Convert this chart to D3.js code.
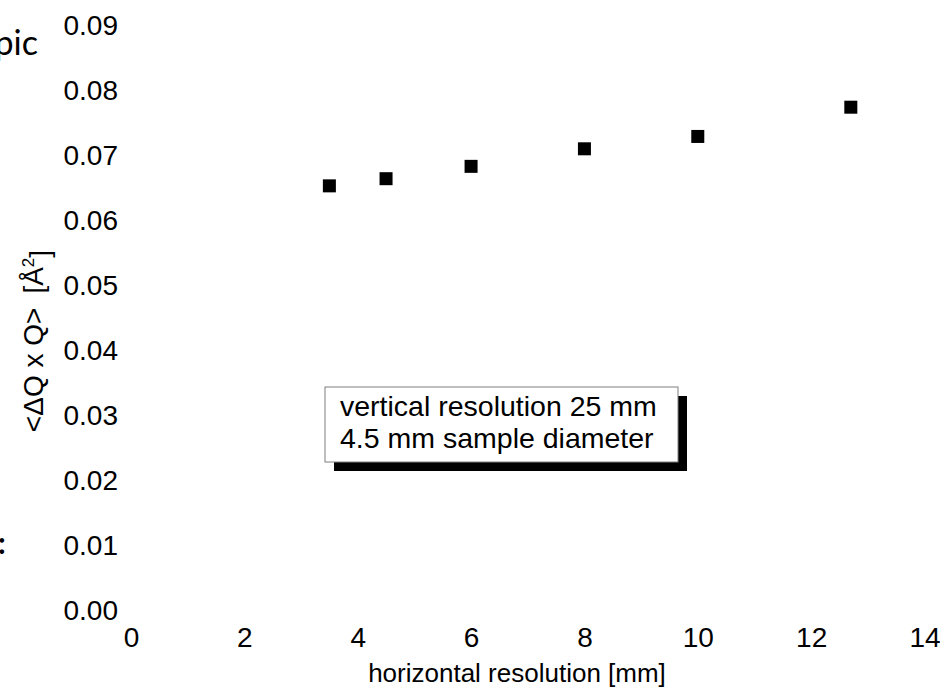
<!DOCTYPE html>
<html>
<head>
<meta charset="utf-8">
<script src="https://cdn.jsdelivr.net/npm/d3@7/dist/d3.min.js"></script>
<style>
  html, body { margin: 0; padding: 0; background: #fff; }
  svg { display: block; }
  text { font-family: "Liberation Sans", Arial, sans-serif; fill: #000; }
</style>
</head>
<body>
<svg id="chart" width="940" height="699"></svg>
<script>
// Measured uncertainty product versus horizontal collimation
const horizontalResolution = [3.5, 4.5, 6, 8, 10, 12.7];
const dqq = [0.0651, 0.0662, 0.0681, 0.0708, 0.0727, 0.0772];
const xTicks = [0, 2, 4, 6, 8, 10, 12, 14];
const yTicks = [0, 0.01, 0.02, 0.03, 0.04, 0.05, 0.06, 0.07, 0.08, 0.09];
const noteLines = ["vertical resolution 25 mm", "4.5 mm sample diameter"];

const svg = d3.select("#chart");

const x = d3.scaleLinear().domain([0, 14]).range([131, 924.5]);
const y = d3.scaleLinear().domain([0, 0.09]).range([609, 24]);

const tickSize = 28;

// fragments of neighbouring slide text at the left edge
svg.append("text")
  .attr("x", 38).attr("y", 55)
  .attr("text-anchor", "end")
  .style("font-family", "Lato, 'Open Sans', sans-serif")
  .style("font-size", "34px")
  .text("pic");
svg.append("text")
  .attr("x", -2).attr("y", 554)
  .style("font-family", "Lato, 'Open Sans', sans-serif")
  .style("font-size", "30px")
  .style("font-weight", "bold")
  .text(":");

// y axis: labels only
const yAxis = svg.append("g")
  .attr("transform", `translate(${x(0)},0)`)
  .call(d3.axisLeft(y).tickValues(yTicks).tickFormat(d3.format(".2f")).tickSize(0).tickPadding(13));
yAxis.select(".domain").remove();
yAxis.selectAll("text")
  .style("font-family", "'Liberation Sans', Arial, sans-serif")
  .style("font-size", tickSize + "px")
  .attr("dy", "0.36em");

// x axis: labels only
const xAxis = svg.append("g")
  .attr("transform", `translate(0,${y(0)})`)
  .call(d3.axisBottom(x).tickValues(xTicks).tickFormat(d3.format("d")).tickSize(0).tickPadding(18));
xAxis.select(".domain").remove();
xAxis.selectAll("text")
  .style("font-family", "'Liberation Sans', Arial, sans-serif")
  .style("font-size", tickSize + "px");

// axis titles
svg.append("text")
  .attr("x", 517).attr("y", 682)
  .attr("text-anchor", "middle")
  .style("font-size", "26px")
  .text("horizontal resolution [mm]");

const yTitle = svg.append("text")
  .attr("transform", "translate(43,341) rotate(-90)")
  .attr("text-anchor", "middle")
  .style("font-size", "28px");
yTitle.append("tspan").text("<ΔQ x Q>");
yTitle.append("tspan").attr("dx", "14").text("[Å");
yTitle.append("tspan").attr("dy", "-0.55em").style("font-size", "17px").text("2");
yTitle.append("tspan").attr("dy", "0.55em").text("]");

// data markers
const size = 13;
svg.append("g").selectAll("rect")
  .data(horizontalResolution.map((h, i) => ({ h, v: dqq[i] })))
  .join("rect")
  .attr("x", d => x(d.h) - size / 2)
  .attr("y", d => y(d.v) - size / 2)
  .attr("width", size)
  .attr("height", size)
  .attr("fill", "#000");

// annotation box with drop shadow
const note = svg.append("g").attr("transform", "translate(325,387)");
const bw = 353, bh = 75;
note.append("rect").attr("x", 9).attr("y", 9).attr("width", bw).attr("height", bh).attr("fill", "#000");
note.append("rect").attr("x", 0).attr("y", 0).attr("width", bw).attr("height", bh)
  .attr("fill", "#fff").attr("stroke", "#7f7f7f").attr("stroke-width", 1);
note.selectAll("text.line")
  .data(noteLines)
  .join("text")
  .attr("class", "line")
  .attr("x", 15)
  .attr("y", (d, i) => 29 + i * 32)
  .style("font-size", "28.5px")
  .text(d => d);
</script>
</body>
</html>
